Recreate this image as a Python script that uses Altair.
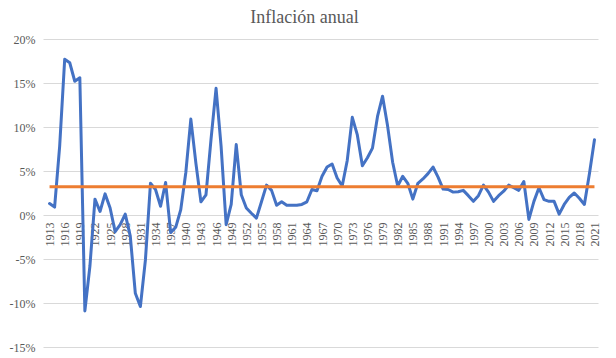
import altair as alt
import pandas as pd

years = list(range(1913, 2022))
inflacion = [
    1.3, 0.9, 7.8, 17.7, 17.3, 15.2, 15.6, -10.9, -5.8, 1.8,
    0.4, 2.4, 0.8, -1.9, -1.1, 0.1, -2.4, -8.9, -10.4, -5.1,
    3.6, 2.9, 1.0, 3.7, -2.0, -1.4, 0.6, 4.8, 10.9, 5.9,
    1.5, 2.3, 8.6, 14.4, 7.8, -1.1, 1.2, 8.0, 2.3, 0.8,
    0.2, -0.35, 1.5, 3.4, 2.8, 1.1, 1.5, 1.1, 1.1, 1.1,
    1.2, 1.5, 2.9, 2.75, 4.4, 5.45, 5.8, 4.2, 3.3, 6.2,
    11.1, 9.1, 5.6, 6.5, 7.6, 11.2, 13.5, 10.1, 6.0, 3.3,
    4.4, 3.6, 1.8, 3.6, 4.1, 4.7, 5.45, 4.3, 2.95, 2.9,
    2.6, 2.65, 2.8, 2.2, 1.55, 2.2, 3.4, 2.6, 1.55, 2.2,
    2.7, 3.4, 3.1, 2.8, 3.8, -0.5, 1.55, 3.1, 1.75, 1.55,
    1.55, 0.1, 1.2, 2.0, 2.5, 1.9, 1.2, 4.7, 8.55,
]
promedio = [3.2]
tick_years = list(range(1913, 2022, 3))
y_ticks = [-15, -10, -5, 0, 5, 10, 15, 20]

df = pd.DataFrame({"year": years, "inflacion": inflacion})
df_mean = pd.DataFrame({"year": [years[0]], "x2": [years[-1]], "inflacion": promedio})

FONT = "Liberation Serif"
GREY = "#595959"

W, H = 555, 308
x_scale = alt.Scale(domain=[1911.7, 2021.7], nice=False, zero=False)
y_scale = alt.Scale(domain=[-15, 20], nice=False)
zero_offset = -H * 15 / 35

x_axis = alt.Axis(values=tick_years, format="d", labelAngle=270, labelAlign="right",
                  labelBaseline="middle", labelPadding=7, ticks=False, domain=False,
                  grid=False, title=None, offset=zero_offset, labelFont=FONT,
                  labelFontSize=12, labelColor=GREY, labelOverlap=False, labelFlush=False)
y_axis = alt.Axis(values=y_ticks, labelExpr="datum.value + '%'", ticks=False, domain=False,
                  grid=True, gridColor="#d9d9d9", gridWidth=1, title=None,
                  labelPadding=8, labelFont=FONT, labelFontSize=12, labelColor=GREY)

line = alt.Chart(df).mark_line(color="#4472C4", strokeWidth=3, strokeJoin="round", strokeCap="round").encode(
    x=alt.X("year:Q", scale=x_scale, axis=x_axis),
    y=alt.Y("inflacion:Q", scale=y_scale, axis=y_axis),
)

mean_rule = alt.Chart(df_mean).mark_rule(color="#ED7D31", strokeWidth=3).encode(
    x=alt.X("year:Q", scale=x_scale, axis=x_axis),
    x2="x2:Q",
    y=alt.Y("inflacion:Q", scale=y_scale, axis=y_axis),
)

chart = alt.layer(line, mean_rule).properties(
    width=W, height=H,
    background="white",
    title=alt.TitleParams("Inflación anual", font=FONT, fontSize=18, color=GREY,
                          fontWeight="normal", anchor="middle", dx=-16, offset=6),
    autosize=alt.AutoSizeParams(type="none"),
    padding={"left": 35, "top": 31, "right": 10, "bottom": 10},
).configure_view(stroke=None).configure_axisX(labelOverlap=False).configure_title(font=FONT, fontWeight="normal")

chart.save("out.html", embed_options={"renderer": "svg", "actions": False})
